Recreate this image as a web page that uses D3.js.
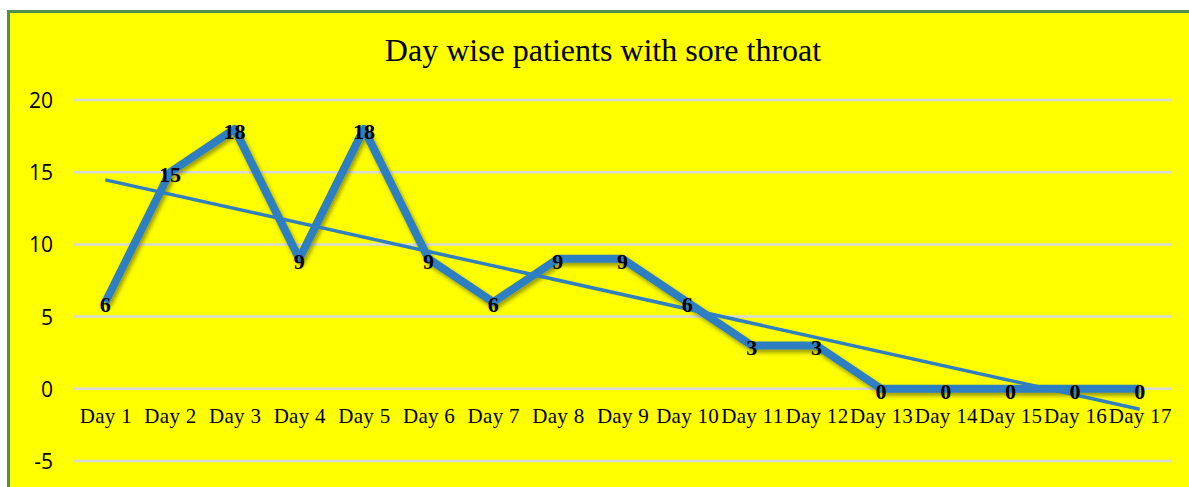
<!DOCTYPE html>
<html>
<head>
<meta charset="utf-8">
<script src="https://cdn.jsdelivr.net/npm/d3@7"></script>
<style>
  body { margin: 0; background: #fff; }
  svg { display: block; }
</style>
</head>
<body>
<div id="chart"></div>
<script>
// chart data
const days = ["Day 1", "Day 2", "Day 3", "Day 4", "Day 5", "Day 6", "Day 7", "Day 8", "Day 9",
  "Day 10", "Day 11", "Day 12", "Day 13", "Day 14", "Day 15", "Day 16", "Day 17"];
const patients = [6, 15, 18, 9, 18, 9, 6, 9, 9, 6, 3, 3, 0, 0, 0, 0, 0];
const yTicks = [-5, 0, 5, 10, 15, 20];
const title = "Day wise patients with sore throat";

const W = 1189, H = 487;
const plot = { left: 73, right: 1172, top: 100, bottom: 461 };
const blue = "#2f7fc1";

const svg = d3.select("#chart").append("svg")
  .attr("width", W)
  .attr("height", H);

const defs = svg.append("defs");
const shadow = defs.append("filter").attr("id", "shadow")
  .attr("x", "-10%").attr("y", "-10%").attr("width", "120%").attr("height", "120%");
shadow.append("feDropShadow")
  .attr("dx", 2).attr("dy", 3).attr("stdDeviation", 2)
  .attr("flood-color", "#000").attr("flood-opacity", 0.4);

// yellow chart area with green frame (right and bottom edges run off the page)
svg.append("rect")
  .attr("x", 8.5).attr("y", 11.5)
  .attr("width", W + 40).attr("height", H + 40)
  .attr("fill", "#ffff00")
  .attr("stroke", "#4f9050")
  .attr("stroke-width", 3);

svg.append("text")
  .attr("x", 603).attr("y", 61)
  .attr("text-anchor", "middle")
  .style("font-family", "'Liberation Serif', 'Times New Roman', serif")
  .style("font-size", "32px")
  .attr("fill", "#000")
  .text(title);

const x = d3.scalePoint().domain(days).range([plot.left, plot.right]).padding(0.5);
const y = d3.scaleLinear().domain([-5, 20]).range([plot.bottom, plot.top]);

// gridlines
svg.append("g")
  .selectAll("line")
  .data(yTicks)
  .enter().append("line")
  .attr("x1", plot.left).attr("x2", plot.right)
  .attr("y1", d => y(d)).attr("y2", d => y(d))
  .attr("stroke", "#d9d9d9")
  .attr("stroke-width", 2.5);

// y axis labels
const yAxis = svg.append("g")
  .attr("transform", "translate(" + (plot.left - 20) + ",0)")
  .call(d3.axisLeft(y).tickValues(yTicks).tickSize(0).tickPadding(0).tickFormat(d => String(d)));
yAxis.select(".domain").remove();
yAxis.selectAll("text")
  .style("font-family", "'Open Sans', 'Liberation Sans', sans-serif")
  .style("font-size", "21px")
  .attr("fill", "#000")
  .attr("dy", "0.36em");

// x axis labels
const xAxis = svg.append("g")
  .attr("transform", "translate(0," + y(0) + ")")
  .call(d3.axisBottom(x).tickSize(0).tickPadding(0));
xAxis.select(".domain").remove();
xAxis.selectAll("text")
  .style("font-family", "'Liberation Serif', 'Times New Roman', serif")
  .style("font-size", "21px")
  .style("letter-spacing", "0.3px")
  .attr("fill", "#000")
  .attr("y", 34)
  .attr("dy", 0);

// data line
const line = d3.line()
  .x((d, i) => x(days[i]))
  .y(d => y(d));

svg.append("path")
  .datum(patients)
  .attr("d", line)
  .attr("fill", "none")
  .attr("stroke", blue)
  .attr("stroke-width", 8)
  .attr("stroke-linejoin", "round")
  .attr("filter", "url(#shadow)");

// linear trendline from the series
const n = patients.length;
const idx = d3.range(1, n + 1);
const mx = d3.mean(idx), my = d3.mean(patients);
const slope = d3.sum(idx, (v, i) => (v - mx) * (patients[i] - my)) / d3.sum(idx, v => (v - mx) * (v - mx));
const intercept = my - slope * mx;
svg.append("line")
  .attr("x1", x(days[0])).attr("y1", y(intercept + slope * 1))
  .attr("x2", x(days[n - 1])).attr("y2", y(intercept + slope * n))
  .attr("stroke", blue)
  .attr("stroke-width", 3.5);

// data labels
svg.append("g")
  .selectAll("text")
  .data(patients)
  .enter().append("text")
  .attr("x", (d, i) => x(days[i]))
  .attr("y", d => y(d) + 2)
  .attr("dy", "0.35em")
  .attr("text-anchor", "middle")
  .style("font-family", "'Liberation Serif', 'Times New Roman', serif")
  .style("font-size", "22px")
  .style("font-weight", "bold")
  .attr("fill", "#000")
  .text(d => d);
</script>
</body>
</html>
